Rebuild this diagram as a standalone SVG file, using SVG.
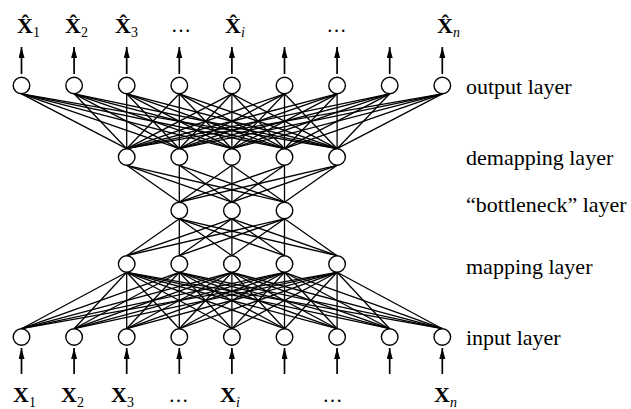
<svg xmlns="http://www.w3.org/2000/svg" width="631" height="409" viewBox="0 0 631 409">
<defs>
<marker id="ah" markerUnits="userSpaceOnUse" markerWidth="12" markerHeight="8" refX="11" refY="3" orient="auto">
<path d="M0,0 L11,3 L0,6 Z" fill="#000"/>
</marker>
</defs>
<style>
.n{fill:#fff;stroke:#000;stroke-width:1.4}
.e{stroke:#000;stroke-width:1.3;fill:none}
.a{stroke:#000;stroke-width:1.7;fill:none;marker-end:url(#ah)}
.lab{font-family:"Liberation Serif","Times New Roman",serif;font-size:22px;fill:#000}
.X{font-family:"Liberation Serif","Times New Roman",serif;font-size:22px;font-weight:bold;fill:#000}
.s{font-family:"Liberation Serif","Times New Roman",serif;font-size:14px;font-weight:normal;fill:#000}
.si{font-family:"Liberation Serif","Times New Roman",serif;font-size:14px;font-weight:normal;font-style:italic;fill:#000}
.d{font-family:"Liberation Serif","Times New Roman",serif;font-size:20px;fill:#000;text-anchor:middle}
</style>
<g id="connectors">
<g id="out-demap">
<line class="e" x1="21.5" y1="93.8" x2="126.7" y2="148.7"/><line class="e" x1="21.5" y1="93.8" x2="179.3" y2="148.7"/><line class="e" x1="21.5" y1="93.8" x2="231.9" y2="148.7"/><line class="e" x1="21.5" y1="93.8" x2="284.5" y2="148.7"/><line class="e" x1="21.5" y1="93.8" x2="337.1" y2="148.7"/>
<line class="e" x1="74.1" y1="93.8" x2="126.7" y2="148.7"/><line class="e" x1="74.1" y1="93.8" x2="179.3" y2="148.7"/><line class="e" x1="74.1" y1="93.8" x2="231.9" y2="148.7"/><line class="e" x1="74.1" y1="93.8" x2="284.5" y2="148.7"/><line class="e" x1="74.1" y1="93.8" x2="337.1" y2="148.7"/>
<line class="e" x1="126.7" y1="93.8" x2="126.7" y2="148.7"/><line class="e" x1="126.7" y1="93.8" x2="179.3" y2="148.7"/><line class="e" x1="126.7" y1="93.8" x2="231.9" y2="148.7"/><line class="e" x1="126.7" y1="93.8" x2="284.5" y2="148.7"/><line class="e" x1="126.7" y1="93.8" x2="337.1" y2="148.7"/>
<line class="e" x1="179.3" y1="93.8" x2="126.7" y2="148.7"/><line class="e" x1="179.3" y1="93.8" x2="179.3" y2="148.7"/><line class="e" x1="179.3" y1="93.8" x2="231.9" y2="148.7"/><line class="e" x1="179.3" y1="93.8" x2="284.5" y2="148.7"/><line class="e" x1="179.3" y1="93.8" x2="337.1" y2="148.7"/>
<line class="e" x1="231.9" y1="93.8" x2="126.7" y2="148.7"/><line class="e" x1="231.9" y1="93.8" x2="179.3" y2="148.7"/><line class="e" x1="231.9" y1="93.8" x2="231.9" y2="148.7"/><line class="e" x1="231.9" y1="93.8" x2="284.5" y2="148.7"/><line class="e" x1="231.9" y1="93.8" x2="337.1" y2="148.7"/>
<line class="e" x1="284.5" y1="93.8" x2="126.7" y2="148.7"/><line class="e" x1="284.5" y1="93.8" x2="179.3" y2="148.7"/><line class="e" x1="284.5" y1="93.8" x2="231.9" y2="148.7"/><line class="e" x1="284.5" y1="93.8" x2="284.5" y2="148.7"/><line class="e" x1="284.5" y1="93.8" x2="337.1" y2="148.7"/>
<line class="e" x1="337.1" y1="93.8" x2="126.7" y2="148.7"/><line class="e" x1="337.1" y1="93.8" x2="179.3" y2="148.7"/><line class="e" x1="337.1" y1="93.8" x2="231.9" y2="148.7"/><line class="e" x1="337.1" y1="93.8" x2="284.5" y2="148.7"/><line class="e" x1="337.1" y1="93.8" x2="337.1" y2="148.7"/>
<line class="e" x1="389.7" y1="93.8" x2="126.7" y2="148.7"/><line class="e" x1="389.7" y1="93.8" x2="179.3" y2="148.7"/><line class="e" x1="389.7" y1="93.8" x2="231.9" y2="148.7"/><line class="e" x1="389.7" y1="93.8" x2="284.5" y2="148.7"/><line class="e" x1="389.7" y1="93.8" x2="337.1" y2="148.7"/>
<line class="e" x1="442.3" y1="93.8" x2="126.7" y2="148.7"/><line class="e" x1="442.3" y1="93.8" x2="179.3" y2="148.7"/><line class="e" x1="442.3" y1="93.8" x2="231.9" y2="148.7"/><line class="e" x1="442.3" y1="93.8" x2="284.5" y2="148.7"/><line class="e" x1="442.3" y1="93.8" x2="337.1" y2="148.7"/>
</g>
<g id="demap-bottle">
<line class="e" x1="126.7" y1="165.3" x2="179.3" y2="202.2"/><line class="e" x1="126.7" y1="165.3" x2="231.9" y2="202.2"/><line class="e" x1="126.7" y1="165.3" x2="284.5" y2="202.2"/>
<line class="e" x1="179.3" y1="165.3" x2="179.3" y2="202.2"/><line class="e" x1="179.3" y1="165.3" x2="231.9" y2="202.2"/><line class="e" x1="179.3" y1="165.3" x2="284.5" y2="202.2"/>
<line class="e" x1="231.9" y1="165.3" x2="179.3" y2="202.2"/><line class="e" x1="231.9" y1="165.3" x2="231.9" y2="202.2"/><line class="e" x1="231.9" y1="165.3" x2="284.5" y2="202.2"/>
<line class="e" x1="284.5" y1="165.3" x2="179.3" y2="202.2"/><line class="e" x1="284.5" y1="165.3" x2="231.9" y2="202.2"/><line class="e" x1="284.5" y1="165.3" x2="284.5" y2="202.2"/>
<line class="e" x1="337.1" y1="165.3" x2="179.3" y2="202.2"/><line class="e" x1="337.1" y1="165.3" x2="231.9" y2="202.2"/><line class="e" x1="337.1" y1="165.3" x2="284.5" y2="202.2"/>
</g>
<g id="bottle-map">
<line class="e" x1="179.3" y1="218.8" x2="126.7" y2="255.7"/><line class="e" x1="179.3" y1="218.8" x2="179.3" y2="255.7"/><line class="e" x1="179.3" y1="218.8" x2="231.9" y2="255.7"/><line class="e" x1="179.3" y1="218.8" x2="284.5" y2="255.7"/><line class="e" x1="179.3" y1="218.8" x2="337.1" y2="255.7"/>
<line class="e" x1="231.9" y1="218.8" x2="126.7" y2="255.7"/><line class="e" x1="231.9" y1="218.8" x2="179.3" y2="255.7"/><line class="e" x1="231.9" y1="218.8" x2="231.9" y2="255.7"/><line class="e" x1="231.9" y1="218.8" x2="284.5" y2="255.7"/><line class="e" x1="231.9" y1="218.8" x2="337.1" y2="255.7"/>
<line class="e" x1="284.5" y1="218.8" x2="126.7" y2="255.7"/><line class="e" x1="284.5" y1="218.8" x2="179.3" y2="255.7"/><line class="e" x1="284.5" y1="218.8" x2="231.9" y2="255.7"/><line class="e" x1="284.5" y1="218.8" x2="284.5" y2="255.7"/><line class="e" x1="284.5" y1="218.8" x2="337.1" y2="255.7"/>
</g>
<g id="map-in">
<line class="e" x1="126.7" y1="272.3" x2="21.5" y2="328.7"/><line class="e" x1="126.7" y1="272.3" x2="74.1" y2="328.7"/><line class="e" x1="126.7" y1="272.3" x2="126.7" y2="328.7"/><line class="e" x1="126.7" y1="272.3" x2="179.3" y2="328.7"/><line class="e" x1="126.7" y1="272.3" x2="231.9" y2="328.7"/><line class="e" x1="126.7" y1="272.3" x2="284.5" y2="328.7"/><line class="e" x1="126.7" y1="272.3" x2="337.1" y2="328.7"/><line class="e" x1="126.7" y1="272.3" x2="389.7" y2="328.7"/><line class="e" x1="126.7" y1="272.3" x2="442.3" y2="328.7"/>
<line class="e" x1="179.3" y1="272.3" x2="21.5" y2="328.7"/><line class="e" x1="179.3" y1="272.3" x2="74.1" y2="328.7"/><line class="e" x1="179.3" y1="272.3" x2="126.7" y2="328.7"/><line class="e" x1="179.3" y1="272.3" x2="179.3" y2="328.7"/><line class="e" x1="179.3" y1="272.3" x2="231.9" y2="328.7"/><line class="e" x1="179.3" y1="272.3" x2="284.5" y2="328.7"/><line class="e" x1="179.3" y1="272.3" x2="337.1" y2="328.7"/><line class="e" x1="179.3" y1="272.3" x2="389.7" y2="328.7"/><line class="e" x1="179.3" y1="272.3" x2="442.3" y2="328.7"/>
<line class="e" x1="231.9" y1="272.3" x2="21.5" y2="328.7"/><line class="e" x1="231.9" y1="272.3" x2="74.1" y2="328.7"/><line class="e" x1="231.9" y1="272.3" x2="126.7" y2="328.7"/><line class="e" x1="231.9" y1="272.3" x2="179.3" y2="328.7"/><line class="e" x1="231.9" y1="272.3" x2="231.9" y2="328.7"/><line class="e" x1="231.9" y1="272.3" x2="284.5" y2="328.7"/><line class="e" x1="231.9" y1="272.3" x2="337.1" y2="328.7"/><line class="e" x1="231.9" y1="272.3" x2="389.7" y2="328.7"/><line class="e" x1="231.9" y1="272.3" x2="442.3" y2="328.7"/>
<line class="e" x1="284.5" y1="272.3" x2="21.5" y2="328.7"/><line class="e" x1="284.5" y1="272.3" x2="74.1" y2="328.7"/><line class="e" x1="284.5" y1="272.3" x2="126.7" y2="328.7"/><line class="e" x1="284.5" y1="272.3" x2="179.3" y2="328.7"/><line class="e" x1="284.5" y1="272.3" x2="231.9" y2="328.7"/><line class="e" x1="284.5" y1="272.3" x2="284.5" y2="328.7"/><line class="e" x1="284.5" y1="272.3" x2="337.1" y2="328.7"/><line class="e" x1="284.5" y1="272.3" x2="389.7" y2="328.7"/><line class="e" x1="284.5" y1="272.3" x2="442.3" y2="328.7"/>
<line class="e" x1="337.1" y1="272.3" x2="21.5" y2="328.7"/><line class="e" x1="337.1" y1="272.3" x2="74.1" y2="328.7"/><line class="e" x1="337.1" y1="272.3" x2="126.7" y2="328.7"/><line class="e" x1="337.1" y1="272.3" x2="179.3" y2="328.7"/><line class="e" x1="337.1" y1="272.3" x2="231.9" y2="328.7"/><line class="e" x1="337.1" y1="272.3" x2="284.5" y2="328.7"/><line class="e" x1="337.1" y1="272.3" x2="337.1" y2="328.7"/><line class="e" x1="337.1" y1="272.3" x2="389.7" y2="328.7"/><line class="e" x1="337.1" y1="272.3" x2="442.3" y2="328.7"/>
</g>
<g id="arrows-out">
<line class="a" x1="21.5" y1="74" x2="21.5" y2="47"/><line class="a" x1="74.1" y1="74" x2="74.1" y2="47"/><line class="a" x1="126.7" y1="74" x2="126.7" y2="47"/><line class="a" x1="179.3" y1="74" x2="179.3" y2="47"/><line class="a" x1="231.9" y1="74" x2="231.9" y2="47"/><line class="a" x1="284.5" y1="74" x2="284.5" y2="47"/><line class="a" x1="337.1" y1="74" x2="337.1" y2="47"/><line class="a" x1="389.7" y1="74" x2="389.7" y2="47"/><line class="a" x1="442.3" y1="74" x2="442.3" y2="47"/>
</g>
<g id="arrows-in">
<line class="a" x1="21.5" y1="374" x2="21.5" y2="348"/><line class="a" x1="74.1" y1="374" x2="74.1" y2="348"/><line class="a" x1="126.7" y1="374" x2="126.7" y2="348"/><line class="a" x1="179.3" y1="374" x2="179.3" y2="348"/><line class="a" x1="231.9" y1="374" x2="231.9" y2="348"/><line class="a" x1="284.5" y1="374" x2="284.5" y2="348"/><line class="a" x1="337.1" y1="374" x2="337.1" y2="348"/><line class="a" x1="389.7" y1="374" x2="389.7" y2="348"/><line class="a" x1="442.3" y1="374" x2="442.3" y2="348"/>
</g>
</g>
<g id="output-layer">
<circle class="n" cx="21.5" cy="85.5" r="8.3"/><circle class="n" cx="74.1" cy="85.5" r="8.3"/><circle class="n" cx="126.7" cy="85.5" r="8.3"/><circle class="n" cx="179.3" cy="85.5" r="8.3"/><circle class="n" cx="231.9" cy="85.5" r="8.3"/><circle class="n" cx="284.5" cy="85.5" r="8.3"/><circle class="n" cx="337.1" cy="85.5" r="8.3"/><circle class="n" cx="389.7" cy="85.5" r="8.3"/><circle class="n" cx="442.3" cy="85.5" r="8.3"/>
<text class="lab" x="466" y="93.5">output layer</text>
</g>
<g id="demapping-layer">
<circle class="n" cx="126.7" cy="157" r="8.3"/><circle class="n" cx="179.3" cy="157" r="8.3"/><circle class="n" cx="231.9" cy="157" r="8.3"/><circle class="n" cx="284.5" cy="157" r="8.3"/><circle class="n" cx="337.1" cy="157" r="8.3"/>
<text class="lab" x="466" y="165">demapping layer</text>
</g>
<g id="bottleneck-layer">
<circle class="n" cx="179.3" cy="210.5" r="8.3"/><circle class="n" cx="231.9" cy="210.5" r="8.3"/><circle class="n" cx="284.5" cy="210.5" r="8.3"/>
<text class="lab" x="466" y="211.5">“bottleneck” layer</text>
</g>
<g id="mapping-layer">
<circle class="n" cx="126.7" cy="264" r="8.3"/><circle class="n" cx="179.3" cy="264" r="8.3"/><circle class="n" cx="231.9" cy="264" r="8.3"/><circle class="n" cx="284.5" cy="264" r="8.3"/><circle class="n" cx="337.1" cy="264" r="8.3"/>
<text class="lab" x="466" y="274">mapping layer</text>
</g>
<g id="input-layer">
<circle class="n" cx="21.5" cy="337" r="8.3"/><circle class="n" cx="74.1" cy="337" r="8.3"/><circle class="n" cx="126.7" cy="337" r="8.3"/><circle class="n" cx="179.3" cy="337" r="8.3"/><circle class="n" cx="231.9" cy="337" r="8.3"/><circle class="n" cx="284.5" cy="337" r="8.3"/><circle class="n" cx="337.1" cy="337" r="8.3"/><circle class="n" cx="389.7" cy="337" r="8.3"/><circle class="n" cx="442.3" cy="337" r="8.3"/>
<text class="lab" x="466" y="345">input layer</text>
</g>
<g id="output-labels">
<text class="X" x="17" y="33">X̂<tspan class="s" dy="4">1</tspan></text>
<text class="X" x="65" y="33">X̂<tspan class="s" dy="4">2</tspan></text>
<text class="X" x="115" y="33">X̂<tspan class="s" dy="4">3</tspan></text>
<text class="d" x="181" y="32">…</text>
<text class="X" x="225" y="33">X̂<tspan class="si" dy="4">i</tspan></text>
<text class="d" x="336.5" y="32">…</text>
<text class="X" x="437" y="33">X̂<tspan class="si" dy="4">n</tspan></text>
</g>
<g id="input-labels">
<text class="X" x="13" y="402">X<tspan class="s" dy="5">1</tspan></text>
<text class="X" x="61" y="402">X<tspan class="s" dy="5">2</tspan></text>
<text class="X" x="111" y="402">X<tspan class="s" dy="5">3</tspan></text>
<text class="d" x="178.5" y="402">…</text>
<text class="X" x="220" y="402">X<tspan class="si" dy="5">i</tspan></text>
<text class="d" x="332.5" y="402">…</text>
<text class="X" x="434" y="402">X<tspan class="si" dy="5">n</tspan></text>
</g>
</svg>
